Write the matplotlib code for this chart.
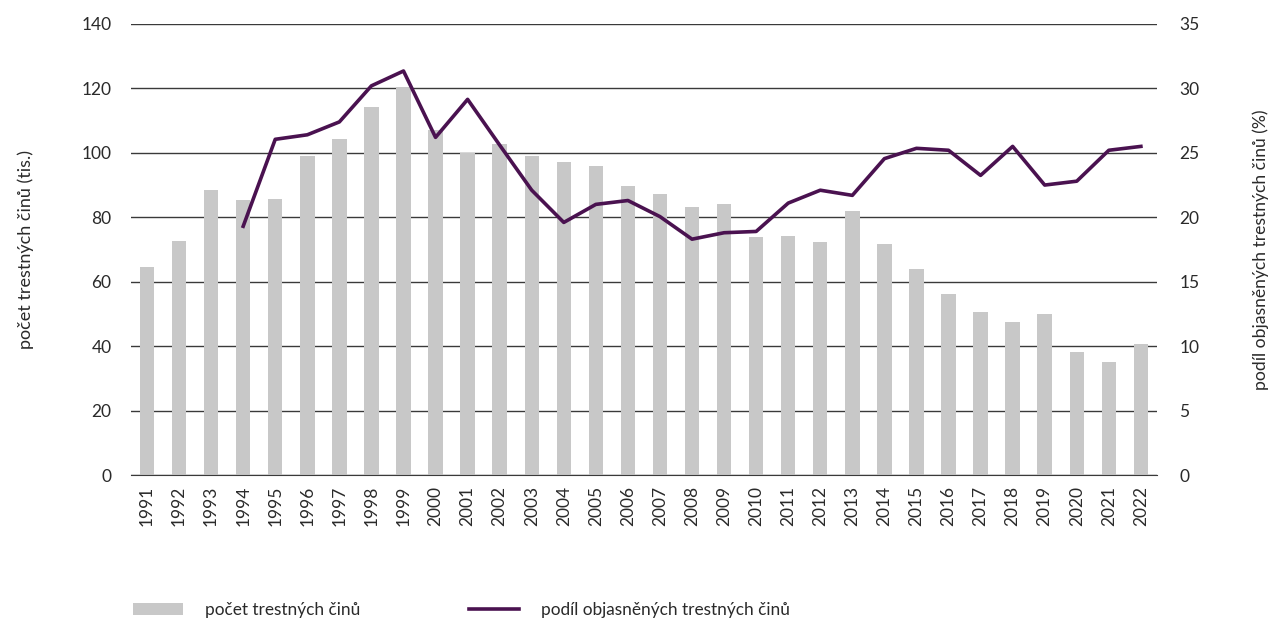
import numpy as np
import matplotlib.pyplot as plt
from matplotlib.patches import Patch
from matplotlib.lines import Line2D

plt.rcParams['font.family'] = ['Lato', 'DejaVu Sans']

years = list(range(1991, 2023))

# počet trestných činů (tis.)
pocet = [64.5, 72.5, 88.4, 85.3, 85.6, 99.1, 104.2, 114.1, 120.3, 107.0,
         99.8, 102.7, 99.1, 97.3, 95.8, 89.6, 87.3, 83.1, 84.1, 74.0,
         74.1, 72.3, 82.0, 71.7, 64.0, 56.3, 50.6, 47.5, 49.9, 38.1,
         35.0, 40.7]

# podíl objasněných trestných činů (%), údaje od roku 1994
podil_years = list(range(1994, 2023))
podil = [19.3, 26.05, 26.4, 27.4, 30.2, 31.35, 26.2, 29.15, 25.6, 22.1,
         19.6, 21.0, 21.3, 20.05, 18.3, 18.8, 18.9, 21.1, 22.1, 21.7,
         24.55, 25.35, 25.2, 23.25, 25.5, 22.5, 22.8, 25.2, 25.5]

bar_color = '#c8c8c8'
line_color = '#4a1250'
grid_color = '#3a3a3a'
text_color = '#2a2a2a'

fig = plt.figure(figsize=(12.74, 6.21), dpi=100)
ax = fig.add_axes([0.1028, 0.2351, 0.8053, 0.7263])

x = np.arange(len(years))
ax.bar(x, pocet, width=0.45, color=bar_color, zorder=2)
ax.set_xlim(-0.5, len(years) - 0.5)
ax.set_ylim(0, 140)
ax.set_yticks(range(0, 141, 20))
ax.set_xticks(x)
ax.set_xticklabels([str(y) for y in years], rotation=90)
ax.yaxis.grid(True, color=grid_color, linewidth=1.0)
ax.set_axisbelow(True)
for s in ['top', 'left', 'right']:
    ax.spines[s].set_visible(False)
ax.spines['bottom'].set_color(grid_color)
ax.tick_params(axis='both', length=0, labelsize=12.5, labelcolor=text_color)
ax.tick_params(axis='y', pad=14)
ax.tick_params(axis='x', pad=8)
ax.set_ylabel('počet trestných činů (tis.)', fontsize=13, color=text_color, labelpad=34)

ax2 = ax.twinx()
px = [years.index(y) for y in podil_years]
ax2.plot(px, podil, color=line_color, linewidth=2.6, zorder=3)
ax2.set_ylim(0, 35)
ax2.set_yticks(range(0, 36, 5))
for s in ax2.spines.values():
    s.set_visible(False)
ax2.tick_params(axis='y', length=0, labelsize=12.5, labelcolor=text_color, pad=16)
ax2.set_ylabel('podíl objasněných trestných činů (%)', fontsize=12.6,
               color=text_color, labelpad=38)

handles = [Patch(facecolor=bar_color, edgecolor='none'),
           Line2D([0], [0], color=line_color, linewidth=2.6)]
labels = ['počet trestných činů', 'podíl objasněných trestných činů']
fig.legend(handles, labels, loc='center left', bbox_to_anchor=(0.092, 0.017),
           ncol=2, frameon=False, fontsize=12.4, handlelength=2.9, handleheight=0.7,
           handletextpad=1.3, columnspacing=6.3, labelcolor=text_color)

fig.savefig('out.png', dpi=100)
